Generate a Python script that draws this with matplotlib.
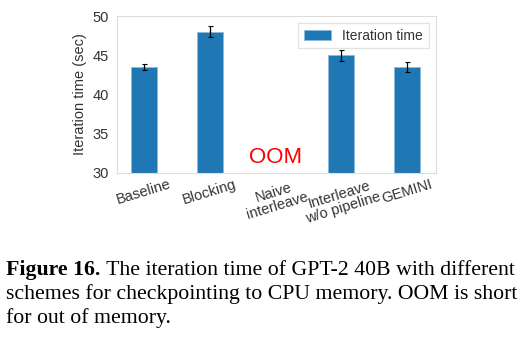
import numpy as np
import matplotlib.pyplot as plt

schemes = ['Baseline', 'Blocking', 'Naive\ninterleave', 'Interleave\nw/o pipeline', 'GEMINI']
iter_time = [43.5, 48.0, 0.0, 45.0, 43.5]
iter_err = [0.4, 0.7, 0.0, 0.7, 0.6]
oom_idx = 2

plt.rcParams['font.family'] = ['Liberation Sans', 'DejaVu Sans']

fig = plt.figure(figsize=(5.25, 3.43), dpi=100)
ax = fig.add_axes([0.223, 0.496, 0.607, 0.457])

x = np.arange(len(schemes))
vals = np.array(iter_time)
errs = np.array(iter_err)
mask = vals > 0
ax.bar(x[mask], vals[mask], width=0.4, color='#1f77b4', edgecolor='#8fb8da',
       linewidth=0.6, label='Iteration time')
ax.errorbar(x[mask], vals[mask], yerr=errs[mask], fmt='none', ecolor='black',
            elinewidth=0.9, capsize=1.8, capthick=0.8)
ax.text(x[oom_idx], 31.9, 'OOM', color='red', fontsize=16, ha='center', va='center')

ax.set_xlim(-0.41, 4.44)
ax.set_ylim(30, 50)
ax.set_yticks([30, 35, 40, 45, 50])
ax.set_xticks(x)
ax.set_xticklabels(schemes, rotation=17, ha='center', fontsize=10.5, color='#333333',
                   linespacing=0.95)
ax.tick_params(axis='y', labelsize=10.5, colors='#333333', length=0, pad=6)
ax.tick_params(axis='x', length=0, pad=3)
ax.set_ylabel('Iteration time (sec)', fontsize=10.5, color='#333333')
for s in ax.spines.values():
    s.set_color('#dddddd')
    s.set_linewidth(0.8)

leg = ax.legend(loc='upper right', fontsize=10, frameon=True, fancybox=False,
                handlelength=2.0, borderpad=0.4)
leg.get_frame().set_edgecolor('#dddddd')
for t in leg.get_texts():
    t.set_color('#333333')

# caption under the chart
cap_font = 'Liberation Serif'
cap_size = 15.7
head = fig.text(0.012, 0.198, 'Figure 16.', fontsize=cap_size, family=cap_font,
                weight='bold', va='baseline')
fig.canvas.draw()
bb = head.get_window_extent(fig.canvas.get_renderer())
x1 = bb.x1 / fig.bbox.width
fig.text(x1, 0.198, ' The iteration time of GPT-2 40B with different',
         fontsize=cap_size, family=cap_font, va='baseline')
fig.text(0.012, 0.128, 'schemes for checkpointing to CPU memory. OOM is short',
         fontsize=cap_size, family=cap_font, va='baseline')
fig.text(0.012, 0.058, 'for out of memory.', fontsize=cap_size, family=cap_font, va='baseline')

fig.savefig('out.png', dpi=100)
